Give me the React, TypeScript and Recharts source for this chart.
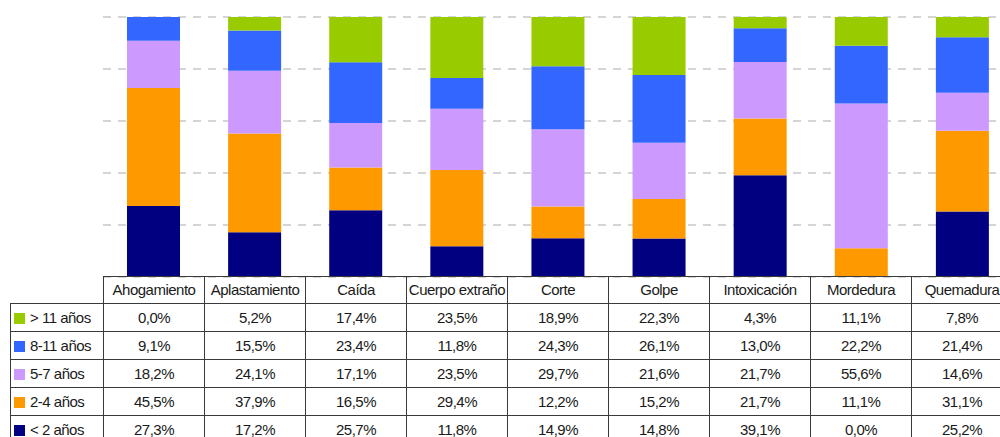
import React from 'react';
import { BarChart, Bar, XAxis, YAxis, CartesianGrid } from 'recharts';

const categories = ['Ahogamiento', 'Aplastamiento', 'Caída', 'Cuerpo extraño', 'Corte', 'Golpe', 'Intoxicación', 'Mordedura', 'Quemadura'];
const over11 = [0.0, 5.2, 17.4, 23.5, 18.9, 22.3, 4.3, 11.1, 7.8];
const age8to11 = [9.1, 15.5, 23.4, 11.8, 24.3, 26.1, 13.0, 22.2, 21.4];
const age5to7 = [18.2, 24.1, 17.1, 23.5, 29.7, 21.6, 21.7, 55.6, 14.6];
const age2to4 = [45.5, 37.9, 16.5, 29.4, 12.2, 15.2, 21.7, 11.1, 31.1];
const under2 = [27.3, 17.2, 25.7, 11.8, 14.9, 14.8, 39.1, 0.0, 25.2];
const yTicks = [0, 0.2, 0.4, 0.6, 0.8, 1];

// top-to-bottom as in the table
const series = [
  { key: 'over11', label: '> 11 años', color: '#99CC00', values: over11 },
  { key: 'age8to11', label: '8-11 años', color: '#3366FF', values: age8to11 },
  { key: 'age5to7', label: '5-7 años', color: '#CC99FF', values: age5to7 },
  { key: 'age2to4', label: '2-4 años', color: '#FF9900', values: age2to4 },
  { key: 'under2', label: '< 2 años', color: '#000080', values: under2 },
];

const data = categories.map((name, i) => {
  const row: Record<string, string | number> = { name };
  series.forEach((s) => { row[s.key] = s.values[i]; });
  return row;
});

const fmt = (v: number) => v.toFixed(1).replace('.', ',') + '%';

const FONT = '"Liberation Sans", Arial, sans-serif';
const LINE = '1px solid #3a3a3a';

export default function App() {
  const stackOrder = [...series].reverse();
  return (
    <div style={{ position: 'absolute', left: 0, top: 0, width: 1000, height: 437, overflow: 'hidden', background: '#fff', fontFamily: FONT }}>
      <BarChart
        width={1013}
        height={278}
        data={data}
        stackOffset="expand"
        margin={{ top: 17, right: 0, left: 103, bottom: 1 }}
      >
        <CartesianGrid vertical={false} stroke="#C8C8C8" strokeDasharray="8 7" strokeWidth={1.5} />
        <XAxis dataKey="name" hide />
        <YAxis hide domain={[0, 1]} ticks={yTicks} />
        {stackOrder.map((s) => (
          <Bar key={s.key} dataKey={s.key} stackId="a" fill={s.color} barSize={53} isAnimationActive={false} />
        ))}
      </BarChart>
      <table
        style={{
          position: 'absolute', left: 10, top: 276, borderCollapse: 'collapse', tableLayout: 'fixed',
          fontFamily: FONT, fontSize: 15, letterSpacing: -0.5, color: '#1a1a1a', width: 1003,
        }}
      >
        <colgroup>
          <col style={{ width: 93 }} />
          {categories.map((c) => <col key={c} style={{ width: 101 }} />)}
        </colgroup>
        <tbody>
          <tr style={{ height: 27 }}>
            <td style={{ padding: 0 }} />
            {categories.map((c) => (
              <td key={c} style={{ border: LINE, textAlign: 'center', padding: 0, whiteSpace: 'nowrap', lineHeight: '20px' }}>{c}</td>
            ))}
          </tr>
          {series.map((s) => (
            <tr key={s.key} style={{ height: 28 }}>
              <td style={{ border: LINE, padding: '0 0 0 3px', whiteSpace: 'nowrap', lineHeight: '20px' }}>
                <span style={{ display: 'inline-block', width: 11, height: 11, background: s.color, marginRight: 5, verticalAlign: -1 }} />
                {s.label}
              </td>
              {s.values.map((v, i) => (
                <td key={i} style={{ border: LINE, textAlign: 'center', padding: 0, lineHeight: '20px' }}>{fmt(v)}</td>
              ))}
            </tr>
          ))}
        </tbody>
      </table>
    </div>
  );
}
